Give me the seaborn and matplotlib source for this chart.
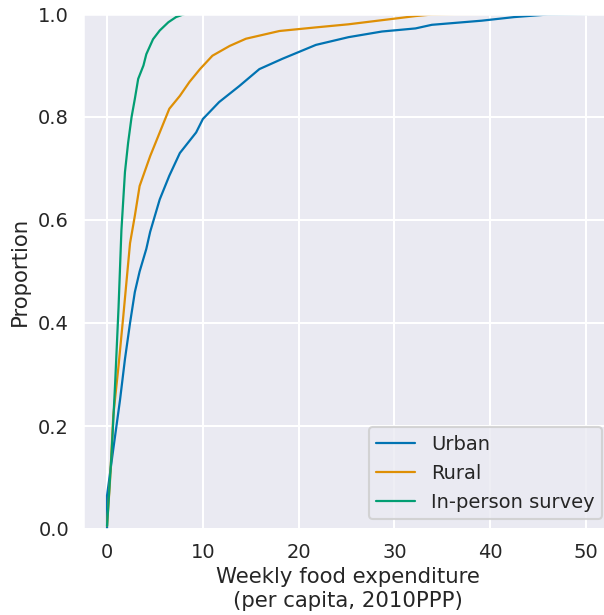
import pandas as pd
import matplotlib
matplotlib.use("Agg")
import matplotlib.pyplot as plt
import seaborn as sns

# Cumulative proportion curves (x = expenditure, y = proportion)
urban_x = [0.0, 0.0, 0.65, 1.35, 1.87, 2.4, 2.9, 3.4, 4.1, 4.5, 5.5, 6.5, 7.6, 9.3, 10.0,
           11.7, 13.8, 15.9, 18.3, 21.8, 25.2, 28.7, 32.2, 33.9, 39.1, 42.5, 46.0, 50.2]
urban_y = [0.0, 0.065, 0.155, 0.25, 0.33, 0.40, 0.46, 0.50, 0.544, 0.577, 0.64, 0.686, 0.73,
           0.77, 0.796, 0.829, 0.86, 0.893, 0.913, 0.94, 0.955, 0.966, 0.972, 0.979, 0.987,
           0.994, 0.999, 1.0]

rural_x = [0.0, 0.3, 0.65, 1.2, 1.7, 2.4, 2.9, 3.4, 4.5, 5.5, 6.5, 7.6, 8.6, 9.7, 11.0,
           12.8, 14.5, 18.0, 21.8, 25.2, 28.7, 32.2, 33.9, 36.3, 41.3]
rural_y = [0.006, 0.09, 0.22, 0.317, 0.414, 0.555, 0.608, 0.666, 0.724, 0.77, 0.816, 0.841,
           0.868, 0.893, 0.919, 0.938, 0.952, 0.967, 0.974, 0.98, 0.988, 0.996, 0.999, 1.0, 1.0]

survey_x = [0.0, 0.5, 0.85, 1.2, 1.5, 1.87, 2.2, 2.56, 2.9, 3.25, 3.8, 4.1, 4.8, 5.5, 6.4,
            7.2, 8.1]
survey_y = [0.006, 0.155, 0.285, 0.43, 0.58, 0.693, 0.75, 0.80, 0.835, 0.874, 0.90, 0.922,
            0.951, 0.968, 0.984, 0.994, 1.0]

groups = ["Urban", "Rural", "In-person survey"]


def main():
    df = pd.concat([
        pd.DataFrame({"x": urban_x, "y": urban_y, "group": groups[0]}),
        pd.DataFrame({"x": rural_x, "y": rural_y, "group": groups[1]}),
        pd.DataFrame({"x": survey_x, "y": survey_y, "group": groups[2]}),
    ], ignore_index=True)

    sns.set_theme(style="darkgrid", context="talk", palette="colorblind")
    plt.rcParams["font.family"] = ["DejaVu Sans"]
    plt.rcParams["xtick.labelsize"] = 14
    plt.rcParams["ytick.labelsize"] = 14
    plt.rcParams["axes.labelsize"] = 15.3
    plt.rcParams["legend.fontsize"] = 14

    fig = plt.figure(figsize=(6.04, 6.15), dpi=100)
    ax = fig.add_axes([83 / 604, 86 / 615, (612 - 83) / 604, (530 - 15) / 615])

    sns.lineplot(data=df, x="x", y="y", hue="group", hue_order=groups,
                 sort=False, estimator=None, linewidth=1.6, ax=ax)

    ax.set_ylim(0, 1)
    ax.set_xlim(-2.51, 52.71)
    ax.set_xticks([0, 10, 20, 30, 40, 50])
    ax.tick_params(axis="both", length=0, pad=10)
    ax.set_ylabel("Proportion", labelpad=6)
    ax.set_xlabel("Weekly food expenditure\n(per capita, 2010PPP)", labelpad=4)

    ax.legend(loc="lower right", title=None, borderaxespad=0.5)

    fig.savefig("out.png", dpi=100)
    plt.close(fig)


if __name__ == "__main__":
    main()
